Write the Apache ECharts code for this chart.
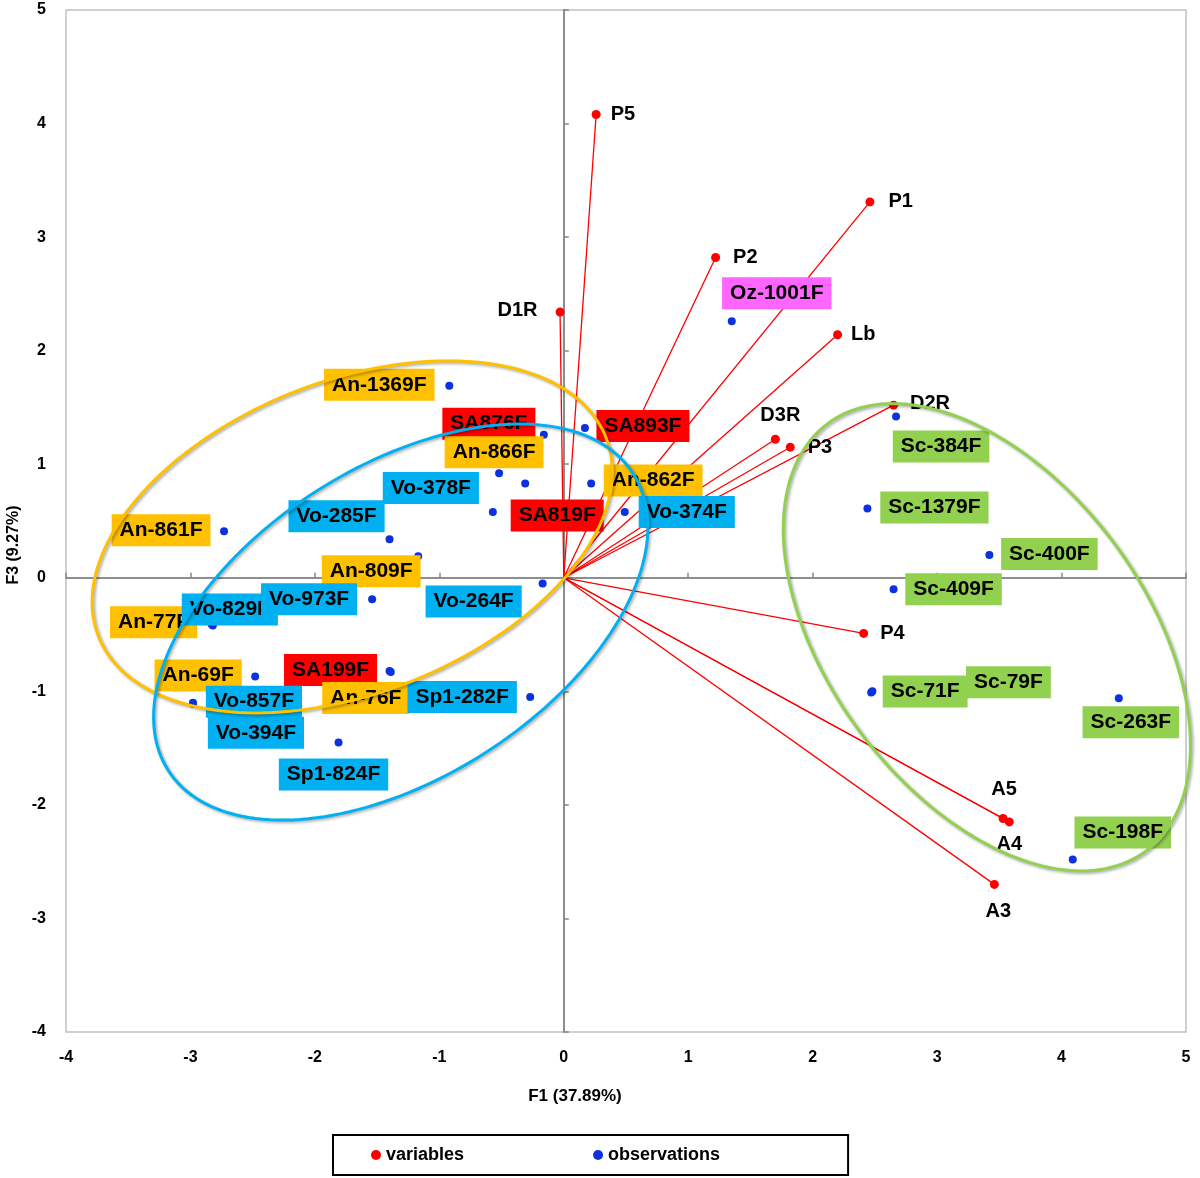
<!DOCTYPE html>
<html><head><meta charset="utf-8">
<script src="https://cdn.jsdelivr.net/npm/echarts@6/dist/echarts.min.js"></script>
<style>html,body{margin:0;padding:0;background:#fff}#chart{width:1200px;height:1178px}</style>
</head><body><div id="chart"></div>
<script>
// ---------- data ----------
const axisMin = -4, axisMax = 5, axisStep = 1;

const varNames = ['P5','P1','P2','D1R','Lb','D2R','D3R','P3','P4','A5','A4','A3'];
const varX     = [0.26, 2.46, 1.22, -0.03, 2.20, 2.65, 1.70, 1.82, 2.41, 3.53, 3.58, 3.46];
const varY     = [4.08, 3.31, 2.82, 2.34, 2.14, 1.52, 1.22, 1.15, -0.49, -2.12, -2.15, -2.70];

const obsNames = ['Oz-1001F','An-1369F','SA893F','SA876F','An-866F','SA819F','An-862F','Vo-378F','Vo-374F',
  'Vo-285F','An-861F','An-809F','Vo-264F','An-77F','Vo-829F','Vo-973F','An-69F','SA199F','Vo-394F','Vo-857F',
  'An-76F','Sp1-282F','Sp1-824F','Sc-384F','Sc-1379F','Sc-400F','Sc-409F','Sc-79F','Sc-71F','Sc-263F','Sc-198F'];
const obsX = [1.35,-0.92,0.17,-0.16,-0.52,-0.31,0.22,-0.57,0.49,
  -1.40,-2.73,-1.17,-0.17,-2.83,-2.82,-1.54,-2.48,-1.40,-2.98,-2.98,
  -1.39,-0.27,-1.81,2.67,2.44,3.42,2.65,2.48,2.47,4.46,4.09];
const obsY = [2.26,1.69,1.32,1.26,0.92,0.83,0.83,0.58,0.58,
  0.34,0.41,0.19,-0.05,-0.41,-0.42,-0.19,-0.87,-0.82,-1.11,-1.10,
  -0.83,-1.05,-1.45,1.42,0.61,0.20,-0.10,-1.00,-1.01,-1.06,-2.48];

// group ellipses (annotation shapes): centre and two conjugate semi-diameters, in data units
const ellipseCX = [-1.70, -1.31, 3.40];
const ellipseCY = [0.36, -0.39, -0.524];
const ellipseUX = [2.09, 1.986, 1.636];
const ellipseUY = [0.573, 0.837, -0.952];
const ellipseVX = [0, 0, 0];
const ellipseVY = [1.44, 1.53, 1.824];
const ellipseColors = ['#FFC000', '#00B0F0', '#92D050'];

// ---------- styling / label layout ----------
const FONT = '"Liberation Sans", Arial, Helvetica, sans-serif';
const groupColors = {An:'#FFC000', Vo:'#00B0F0', Sp1:'#00B0F0', SA:'#FF0000', Sc:'#92D050', Oz:'#FF66FF'};
const obsLabelOffset = {
  'Oz-1001F':[45,-28],'An-1369F':[-70,-1],'SA893F':[58,-2],'SA876F':[-55,-11],'An-866F':[-5,-21],
  'SA819F':[32,32],'An-862F':[62,-3],'Vo-378F':[-62,-24],'Vo-374F':[62,0],'Vo-285F':[-53,-23],
  'An-861F':[-63,-1],'An-809F':[-47,15],'Vo-264F':[-69,18],'An-77F':[-58,-2],'Vo-829F':[17,-16],
  'Vo-973F':[-63,0],'An-69F':[-57,-1],'SA199F':[-59,-1],'Vo-394F':[63,29],'Vo-857F':[61,-1],
  'An-76F':[-25,26],'Sp1-282F':[-68,0],'Sp1-824F':[-5,32],'Sc-384F':[45,30],'Sc-1379F':[67,-1],
  'Sc-400F':[60,-1],'Sc-409F':[60,0],'Sc-79F':[136,-9],'Sc-71F':[54,-1],'Sc-263F':[12,24],'Sc-198F':[50,-27]
};
const varLabelPos = {
  'P5':['right',10,[0,0]],'P1':['right',14,[0,0]],'P2':['right',13,[0,0]],'D1R':['left',18,[0,-2]],
  'Lb':['right',9,[0,0]],'D2R':['right',12,[0,-2]],'D3R':['top',9,[5,0]],'P3':['right',13,[0,0]],
  'P4':['right',12,[0,0]],'A5':['top',15,[1,0]],'A4':['bottom',8,[0,0]],'A3':['bottom',13,[4,0]]
};

const varData = varNames.map((n,i)=>{
  const p = varLabelPos[n];
  return {name:n, value:[varX[i], varY[i]],
    label:{show:true, formatter:n, position:p[0], distance:p[1], offset:p[2], opacity:1,
      color:'#000', fontWeight:'bold', fontSize:20, fontFamily:FONT}};
});
const obsData = obsNames.map((n,i)=>{
  const g = n.startsWith('SA') ? 'SA' : n.split('-')[0];
  return {name:n, value:[obsX[i], obsY[i]],
    label:{show:true, formatter:n, position:'inside', offset:obsLabelOffset[n], opacity:1,
      align:'center', verticalAlign:'middle',
      backgroundColor:groupColors[g], padding:[4,8,4,8], lineHeight:24,
      color:'#000', fontWeight:'bold', fontSize:21, fontFamily:FONT}};
});
const ellipseData = ellipseCX.map((c,i)=>[c, ellipseCY[i], ellipseUX[i], ellipseUY[i], ellipseVX[i], ellipseVY[i]]);
const vectorData = varNames.map((n,i)=>[varX[i], varY[i]]);

function valAxis(extra){
  return Object.assign({type:'value', min:axisMin, max:axisMax, interval:axisStep, splitLine:{show:false}}, extra);
}
const zeroLine = {show:true, onZero:true, lineStyle:{color:'#868686', width:1.5}};
const hiddenLabels = {show:false};

const chart = echarts.init(document.getElementById('chart'), null, {renderer:'canvas'});
chart.setOption({
  animation:false,
  backgroundColor:'#fff',
  grid:{left:66, right:14, top:10, bottom:146, show:true, borderColor:'#C0C0C0', borderWidth:1.5,
        containLabel:false, outerBoundsMode:'none'},
  xAxis:[
    valAxis({position:'bottom', axisLine:{show:false, onZero:false}, axisTick:{show:false},
      axisLabel:{color:'#000', fontWeight:'bold', fontSize:16, fontFamily:FONT, margin:18}}),
    valAxis({position:'top', axisLine:zeroLine, axisTick:{show:true, length:5, lineStyle:{color:'#868686', width:1.5}}, axisLabel:hiddenLabels}),
    valAxis({position:'bottom', axisLine:zeroLine, axisTick:{show:true, inside:true, length:5, lineStyle:{color:'#868686', width:1.5}}, axisLabel:hiddenLabels})
  ],
  yAxis:[
    valAxis({position:'left', axisLine:{show:false, onZero:false}, axisTick:{show:false},
      axisLabel:{color:'#000', fontWeight:'bold', fontSize:16, fontFamily:FONT, margin:20}}),
    valAxis({position:'right', axisLine:zeroLine, axisTick:{show:true, length:5, lineStyle:{color:'#868686', width:1.5}}, axisLabel:hiddenLabels}),
    valAxis({position:'left', axisLine:zeroLine, axisTick:{show:true, inside:true, length:5, lineStyle:{color:'#868686', width:1.5}}, axisLabel:hiddenLabels})
  ],
  legend:{
    data:['variables','observations'], left:333, top:1135, orient:'horizontal',
    padding:[11,128,11,38], itemGap:129, itemWidth:10, itemHeight:10, icon:'circle',
    borderColor:'#000', borderWidth:2, borderRadius:0,
    textStyle:{color:'#000', fontWeight:'bold', fontSize:18, fontFamily:FONT}
  },
  graphic:[
    {type:'text', x:575, y:1096, style:{text:'F1 (37.89%)', align:'center', verticalAlign:'middle',
      font:'bold 17px ' + FONT, fill:'#000'}},
    {type:'text', x:14, y:545, rotation:Math.PI/2, style:{text:'F3 (9.27%)', align:'center', verticalAlign:'middle',
      font:'bold 16px ' + FONT, fill:'#000'}}
  ],
  series:[
    {name:'vectors', type:'custom', xAxisIndex:0, yAxisIndex:0, z:1, silent:true,
      data:vectorData,
      renderItem:function(params, api){
        const p0 = api.coord([0,0]);
        const p1 = api.coord([api.value(0), api.value(1)]);
        return {type:'line', shape:{x1:p0[0], y1:p0[1], x2:p1[0], y2:p1[1]},
          style:{stroke:'#FF0000', lineWidth:1.3}};
      }},
    {name:'variables', type:'scatter', xAxisIndex:0, yAxisIndex:0, z:2, symbol:'circle', symbolSize:9,
      itemStyle:{color:'#FF0000', opacity:1}, data:varData},
    {name:'observations', type:'scatter', xAxisIndex:0, yAxisIndex:0, z:3, symbol:'circle', symbolSize:8,
      itemStyle:{color:'#0A32E0', opacity:1}, data:obsData},
    {name:'groups', type:'custom', xAxisIndex:0, yAxisIndex:0, z:10, silent:true,
      data:ellipseData,
      renderItem:function(params, api){
        const cx = api.value(0), cy = api.value(1), ux = api.value(2), uy = api.value(3), vx = api.value(4), vy = api.value(5);
        const pts = [];
        for (let k = 0; k <= 180; k++) {
          const t = k / 180 * Math.PI * 2;
          pts.push(api.coord([cx + ux*Math.cos(t) + vx*Math.sin(t), cy + uy*Math.cos(t) + vy*Math.sin(t)]));
        }
        return {type:'polygon', shape:{points:pts},
          style:{fill:null, stroke:ellipseColors[params.dataIndex], lineWidth:3,
            shadowBlur:3, shadowColor:'rgba(0,0,0,0.35)', shadowOffsetX:1.5, shadowOffsetY:1.5}};
      }}
  ]
});
</script>
</body></html>
